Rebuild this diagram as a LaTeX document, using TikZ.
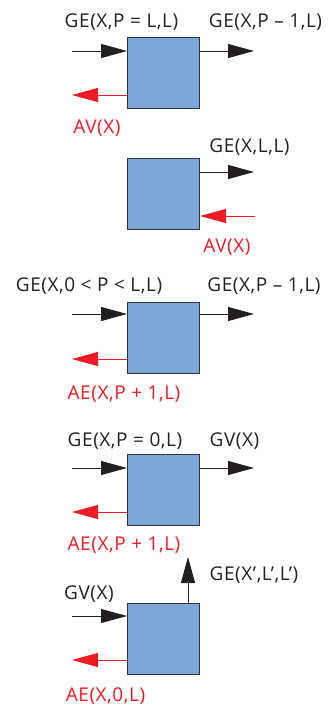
\documentclass[tikz,border=0pt]{standalone}
\usepackage{fontspec}
\setmainfont[LetterSpace=3]{Open Sans}
\usetikzlibrary{arrows.meta}
\definecolor{boxblue}{HTML}{7BA7D8}
\definecolor{arrred}{HTML}{ED1C24}
\definecolor{edge}{HTML}{333333}
\definecolor{ink}{HTML}{231F20}
\tikzset{
  blk/.style={draw=edge, line width=1.1pt, fill=boxblue, minimum width=72pt, minimum height=71pt, inner sep=0pt, anchor=north west},
  blackarr/.style={draw=ink, line width=0.9pt, -{Triangle[length=26pt,width=14pt]}},
  redarr/.style={draw=arrred, line width=0.9pt, -{Triangle[length=26pt,width=14pt]}},
  lbl/.style={anchor=base, inner sep=0pt, font=\fontsize{19}{21}\selectfont, text=ink},
  rlbl/.style={lbl, text=arrred}
}
\begin{document}
\begin{tikzpicture}[x=1pt,y=-1pt]
\useasboundingbox (0,0) rectangle (329,707);
% block 1
\node[blk] (b1) at (127,37) {};
\coordinate (i1) at (72,51);
\coordinate (o1) at (254,51);
\coordinate (r1) at (72,95);
\draw[blackarr] (i1) -- (b1.west |- i1);
\draw[blackarr] (b1.east |- o1) -- (o1);
\draw[redarr] (b1.west |- r1) -- (r1);
\node[lbl] (t1a) at (121.5,27) {GE(X,P = L,L)};
\node[lbl] (t1b) at (265.5,27) {GE(X,P – 1,L)};
\node[rlbl] (t1c) at (97,133.5) {AV(X)};
% block 2
\node[blk] (b2) at (127,158) {};
\coordinate (o2) at (254,172);
\coordinate (r2) at (255,216);
\draw[blackarr] (b2.east |- o2) -- (o2);
\draw[redarr] (r2) -- (b2.east |- r2);
\node[lbl] (t2a) at (249.5,152) {GE(X,L,L)};
\node[rlbl] (t2b) at (227,252) {AV(X)};
% block 3
\node[blk] (b3) at (127,302) {};
\coordinate (i3) at (72,314);
\coordinate (o3) at (254,314);
\coordinate (r3) at (72,359);
\draw[blackarr] (i3) -- (b3.west |- i3);
\draw[blackarr] (b3.east |- o3) -- (o3);
\draw[redarr] (b3.west |- r3) -- (r3);
\node[lbl] (t3a) at (89,291.5) {GE(X,0 < P < L,L)};
\node[lbl] (t3b) at (264,291.5) {GE(X,P – 1,L)};
\node[rlbl] (t3c) at (124,399) {AE(X,P + 1,L)};
% block 4
\node[blk] (b4) at (127,454) {};
\coordinate (i4) at (72,468);
\coordinate (o4) at (254,468);
\coordinate (r4) at (72,512);
\draw[blackarr] (i4) -- (b4.west |- i4);
\draw[blackarr] (b4.east |- o4) -- (o4);
\draw[redarr] (b4.west |- r4) -- (r4);
\node[lbl] (t4a) at (125,446) {GE(X,P = 0,L)};
\node[lbl] (t4b) at (234.5,446) {GV(X)};
\node[rlbl] (t4c) at (124,550.5) {AE(X,P + 1,L)};
% block 5
\node[blk] (b5) at (127,603) {};
\coordinate (i5) at (72,616);
\coordinate (u5) at (188,557);
\coordinate (r5) at (72,660);
\draw[blackarr] (i5) -- (b5.west |- i5);
\draw[blackarr] (b5.north -| u5) -- (u5);
\draw[redarr] (b5.west |- r5) -- (r5);
\node[lbl] (t5a) at (254,580) {GE(X’,L’,L’)};
\node[lbl] (t5b) at (89,599) {GV(X)};
\node[rlbl] (t5c) at (105.5,701.5) {AE(X,0,L)};
\end{tikzpicture}
\end{document}
